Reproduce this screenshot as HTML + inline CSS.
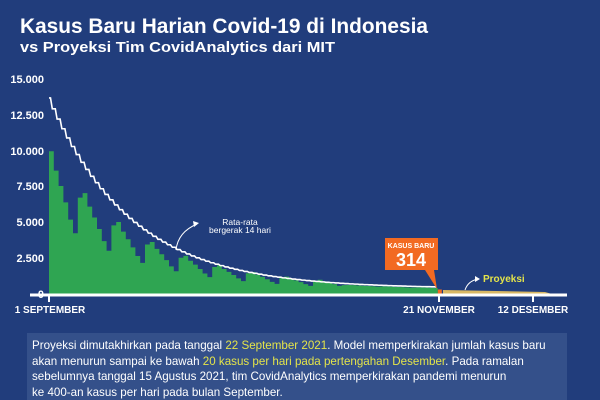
<!DOCTYPE html>
<html><head><meta charset="utf-8"><style>
html,body{margin:0;padding:0;background:#213d7c;}
body{width:600px;height:400px;overflow:hidden;position:relative;font-family:"Liberation Sans",sans-serif;}
.box{position:absolute;left:27px;top:333px;width:540px;height:67px;background:#34508a;}
.box p{margin:0;padding:5px 0 0 5px;color:#fff;font-size:11.6px;line-height:15.5px;}
.y{color:#e4e44a;}
</style></head><body>
<svg id="s" width="600" height="400" style="position:absolute;left:0;top:0" xmlns="http://www.w3.org/2000/svg">
<text x="20" y="33" fill="#fff" font-size="21" font-weight="bold" textLength="408" lengthAdjust="spacingAndGlyphs">Kasus Baru Harian Covid-19 di Indonesia</text>
<text x="20" y="52" fill="#fff" font-size="15" font-weight="bold" textLength="315" lengthAdjust="spacingAndGlyphs">vs Proyeksi Tim CovidAnalytics dari MIT</text>
<g fill="#fff" font-size="11" font-weight="bold" text-anchor="end">
<text x="44" y="83">15.000</text><text x="44" y="119">12.500</text><text x="44" y="155">10.000</text>
<text x="44" y="190">7.500</text><text x="44" y="226">5.000</text><text x="44" y="262">2.500</text><text x="44" y="298">0</text>
</g>
<g id="bars"></g>
<rect x="30" y="293.5" width="537" height="3" fill="#fff"/>
<g stroke="#fff" stroke-width="2"><line x1="49" y1="295" x2="49" y2="302"/><line x1="439" y1="295" x2="439" y2="302"/><line x1="533" y1="295" x2="533" y2="302"/></g>
<g fill="#fff" font-size="10" font-weight="bold" text-anchor="middle">
<text x="50" y="313">1 SEPTEMBER</text><text x="439" y="313">21 NOVEMBER</text><text x="533" y="313">12 DESEMBER</text>
</g>
<path d="M385 238 H438 V270 H434 L437 289 L425 270 H385 Z" fill="#f26a22"/>
<text x="411" y="248" fill="#fff" font-size="7" font-weight="bold" text-anchor="middle">KASUS BARU</text>
<text x="411" y="266" fill="#fff" font-size="18" font-weight="bold" text-anchor="middle">314</text>
<text x="240" y="225" fill="#fff" font-size="8.5" text-anchor="middle">Rata-rata</text>
<text x="240" y="233" fill="#fff" font-size="8.5" text-anchor="middle">bergerak 14 hari</text>
<path d="M176 250 Q178 232 197 224" fill="none" stroke="#fff" stroke-width="1"/>
<path d="M193 221 L199 223 L194 227 Z" fill="#fff"/>
<path d="M465 290 Q468 281 478 279" fill="none" stroke="#fff" stroke-width="1"/>
<path d="M475 276 L480 279 L475 282 Z" fill="#fff"/>
<text x="483" y="282" fill="#e4e44a" font-size="10" font-weight="bold">Proyeksi</text>
</svg>
<div class="box"><p>Proyeksi dimutakhirkan pada tanggal <span class="y">22 September 2021</span>. Model memperkirakan jumlah kasus baru<br>akan menurun sampai ke bawah <span class="y">20 kasus per hari pada pertengahan Desember</span>. Pada ramalan<br>sebelumnya tanggal 15 Agustus 2021, tim CovidAnalytics memperkirakan pandemi menurun<br>ke 400-an kasus per hari pada bulan September.</p></div>
<script>
var X=function(d){return 49+d*4.8},Y=function(v){return 294-v*215/15000};
var wf=[1.1,1.0,0.92,0.82,0.7,0.6,1.0];
var p="M"+X(0)+" 294",ma="";
for(var d=0;d<81;d++){var v=(8600*Math.exp(-d/19)+450)*wf[d%7];if(d>60)v=(300+8600*Math.exp(-d/19))*(0.9+0.1*wf[d%7]);
p+=" L"+X(d)+" "+Y(v)+" L"+X(d+1)+" "+Y(v);
var m=13300*Math.exp(-d/17)+380, m2=13300*Math.exp(-(d+1)/17)+380;
ma+=(d?" L":"M")+X(d)+" "+Y(m)+" L"+(X(d)+1.5)+" "+Y(m)+" L"+(X(d)+3.3)+" "+Y(m2);}
p+=" L"+X(81)+" 294 Z";
var g=document.getElementById("bars");
g.innerHTML='<path d="'+p+'" fill="#2fa552"/><rect x="'+X(81)+'" y="'+Y(314)+'" width="4" height="'+(294-Y(314))+'" fill="#f26a22"/><path d="M443 294 L443 290 L545 292 L552 294 Z" fill="#d8b865"/><path d="'+ma+'" fill="none" stroke="#fff" stroke-width="1.6"/>';
</script>
</body></html>
